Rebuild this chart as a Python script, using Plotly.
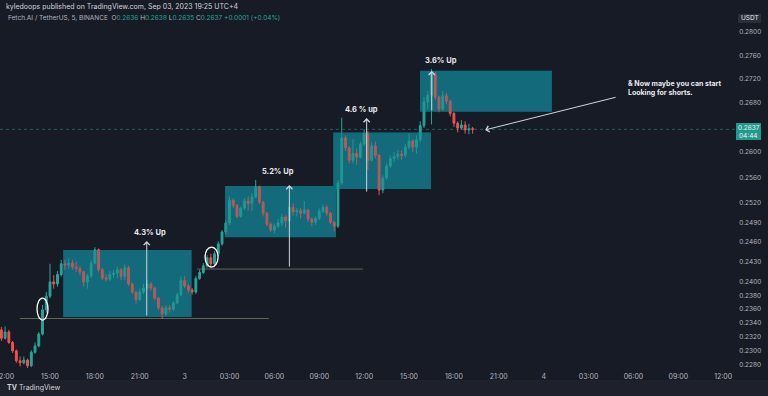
import math
import pandas as pd
import plotly.graph_objects as go

# ---------------- data (FET/USDT, 15-min candles) ----------------
opens = [0.2330, 0.2318, 0.2327, 0.2312, 0.2300, 0.2286, 0.2283, 0.2287, 0.2279, 0.2298,
         0.2307, 0.2324, 0.2359, 0.2379, 0.2400, 0.2397, 0.2411, 0.2427, 0.2425, 0.2428,
         0.2422, 0.2420, 0.2415, 0.2400, 0.2409, 0.2428, 0.2448, 0.2418, 0.2406, 0.2404,
         0.2411, 0.2413, 0.2418, 0.2408, 0.2421, 0.2397, 0.2385, 0.2374, 0.2385, 0.2391,
         0.2397, 0.2391, 0.2376, 0.2362, 0.2353, 0.2362, 0.2360, 0.2369, 0.2381, 0.2402,
         0.2394, 0.2388, 0.2385, 0.2405, 0.2414, 0.2424, 0.2436, 0.2427, 0.2442, 0.2457,
         0.2475, 0.2489, 0.2524, 0.2516, 0.2499, 0.2512, 0.2523, 0.2519, 0.2529, 0.2545,
         0.2521, 0.2504, 0.2487, 0.2478, 0.2484, 0.2489, 0.2498, 0.2492, 0.2513, 0.2506,
         0.2508, 0.2504, 0.2509, 0.2495, 0.2490, 0.2496, 0.2507, 0.2513, 0.2504, 0.2490,
         0.2484, 0.2551, 0.2623, 0.2607, 0.2587, 0.2598, 0.2592, 0.2613, 0.2630, 0.2587,
         0.2610, 0.2595, 0.2540, 0.2559, 0.2578, 0.2590, 0.2593, 0.2597, 0.2595, 0.2608,
         0.2618, 0.2608, 0.2620, 0.2643, 0.2682, 0.2693, 0.2728, 0.2690, 0.2670, 0.2692,
         0.2683, 0.2663, 0.2647, 0.2639, 0.2644, 0.2636, 0.2638]
highs = [0.2334, 0.2335, 0.2330, 0.2314, 0.2302, 0.2292, 0.2292, 0.2289, 0.2301, 0.2312,
         0.2327, 0.2366, 0.2385, 0.2427, 0.2410, 0.2416, 0.2433, 0.2433, 0.2435, 0.2433,
         0.2430, 0.2424, 0.2416, 0.2412, 0.2433, 0.2452, 0.2450, 0.2421, 0.2412, 0.2416,
         0.2418, 0.2423, 0.2421, 0.2426, 0.2424, 0.2399, 0.2387, 0.2390, 0.2397, 0.2403,
         0.2400, 0.2393, 0.2378, 0.2365, 0.2366, 0.2366, 0.2372, 0.2384, 0.2408, 0.2409,
         0.2397, 0.2391, 0.2409, 0.2418, 0.2428, 0.2440, 0.2442, 0.2446, 0.2461, 0.2478,
         0.2493, 0.2530, 0.2527, 0.2518, 0.2514, 0.2527, 0.2530, 0.2535, 0.2556, 0.2547,
         0.2523, 0.2506, 0.2490, 0.2488, 0.2495, 0.2503, 0.2501, 0.2520, 0.2519, 0.2512,
         0.2512, 0.2523, 0.2511, 0.2497, 0.2499, 0.2511, 0.2517, 0.2516, 0.2506, 0.2492,
         0.2556, 0.2656, 0.2627, 0.2609, 0.2621, 0.2606, 0.2617, 0.2637, 0.2634, 0.2616,
         0.2617, 0.2597, 0.2563, 0.2582, 0.2595, 0.2600, 0.2603, 0.2603, 0.2613, 0.2630,
         0.2621, 0.2627, 0.2650, 0.2690, 0.2700, 0.2737, 0.2732, 0.2692, 0.2700, 0.2697,
         0.2686, 0.2665, 0.2650, 0.2652, 0.2650, 0.2646, 0.2641]
lows = [0.2314, 0.2316, 0.2310, 0.2297, 0.2283, 0.2278, 0.2281, 0.2275, 0.2277, 0.2296,
        0.2305, 0.2322, 0.2355, 0.2376, 0.2390, 0.2393, 0.2408, 0.2418, 0.2420, 0.2418,
        0.2415, 0.2410, 0.2393, 0.2390, 0.2406, 0.2426, 0.2415, 0.2403, 0.2400, 0.2401,
        0.2406, 0.2406, 0.2403, 0.2403, 0.2394, 0.2382, 0.2368, 0.2372, 0.2382, 0.2388,
        0.2387, 0.2373, 0.2359, 0.2346, 0.2350, 0.2355, 0.2357, 0.2367, 0.2379, 0.2391,
        0.2384, 0.2381, 0.2382, 0.2403, 0.2412, 0.2421, 0.2421, 0.2425, 0.2439, 0.2454,
        0.2472, 0.2486, 0.2512, 0.2496, 0.2497, 0.2509, 0.2508, 0.2507, 0.2527, 0.2518,
        0.2499, 0.2484, 0.2475, 0.2473, 0.2481, 0.2484, 0.2482, 0.2489, 0.2500, 0.2499,
        0.2496, 0.2502, 0.2491, 0.2484, 0.2486, 0.2493, 0.2504, 0.2500, 0.2487, 0.2476,
        0.2481, 0.2548, 0.2602, 0.2582, 0.2582, 0.2580, 0.2590, 0.2610, 0.2572, 0.2585,
        0.2590, 0.2532, 0.2535, 0.2556, 0.2575, 0.2584, 0.2588, 0.2588, 0.2592, 0.2605,
        0.2600, 0.2598, 0.2616, 0.2639, 0.2670, 0.2645, 0.2685, 0.2665, 0.2667, 0.2678,
        0.2658, 0.2641, 0.2632, 0.2636, 0.2630, 0.2629, 0.2630]
closes = [0.2318, 0.2327, 0.2312, 0.2300, 0.2286, 0.2283, 0.2287, 0.2279, 0.2298, 0.2307,
          0.2324, 0.2359, 0.2379, 0.2400, 0.2397, 0.2411, 0.2427, 0.2425, 0.2428, 0.2422,
          0.2420, 0.2415, 0.2400, 0.2409, 0.2428, 0.2448, 0.2418, 0.2406, 0.2404, 0.2411,
          0.2413, 0.2418, 0.2408, 0.2421, 0.2397, 0.2385, 0.2374, 0.2385, 0.2391, 0.2397,
          0.2391, 0.2376, 0.2362, 0.2353, 0.2362, 0.2360, 0.2369, 0.2381, 0.2402, 0.2394,
          0.2388, 0.2385, 0.2405, 0.2414, 0.2424, 0.2436, 0.2427, 0.2442, 0.2457, 0.2475,
          0.2489, 0.2524, 0.2516, 0.2499, 0.2512, 0.2523, 0.2519, 0.2529, 0.2545, 0.2521,
          0.2504, 0.2487, 0.2478, 0.2484, 0.2489, 0.2498, 0.2492, 0.2513, 0.2506, 0.2508,
          0.2504, 0.2509, 0.2495, 0.2490, 0.2496, 0.2507, 0.2513, 0.2504, 0.2490, 0.2484,
          0.2551, 0.2623, 0.2607, 0.2587, 0.2598, 0.2592, 0.2613, 0.2630, 0.2587, 0.2610,
          0.2595, 0.2540, 0.2559, 0.2578, 0.2590, 0.2593, 0.2597, 0.2595, 0.2608, 0.2618,
          0.2608, 0.2620, 0.2643, 0.2682, 0.2693, 0.2728, 0.2690, 0.2670, 0.2692, 0.2683,
          0.2663, 0.2647, 0.2639, 0.2644, 0.2636, 0.2638, 0.2637]
first_candle = "2023-09-02 11:45"
candle_step = "15min"
times = pd.date_range(first_candle, periods=len(closes), freq=candle_step)

last_price = 0.2637
countdown = "04:44"

y_tick_values = [0.2800, 0.2760, 0.2720, 0.2680, 0.2600, 0.2560, 0.2520, 0.2490, 0.2460,
                 0.2430, 0.2400, 0.2380, 0.2360, 0.2340, 0.2320, 0.2300, 0.2280]
x_tick_times = ["2023-09-02 12:00", "2023-09-02 15:00", "2023-09-02 18:00", "2023-09-02 21:00",
                "2023-09-03 00:00", "2023-09-03 03:00", "2023-09-03 06:00", "2023-09-03 09:00",
                "2023-09-03 12:00", "2023-09-03 15:00", "2023-09-03 18:00", "2023-09-03 21:00",
                "2023-09-04 00:00", "2023-09-04 03:00", "2023-09-04 06:00", "2023-09-04 09:00",
                "2023-09-04 12:00"]
x_tick_labels = ["12:00", "15:00", "18:00", "21:00", "3", "03:00", "06:00", "09:00", "12:00",
                 "15:00", "18:00", "21:00", "4", "03:00", "06:00", "09:00", "12:00"]

# consolidation boxes drawn on the chart
box_starts = ["2023-09-02 15:53", "2023-09-03 02:42", "2023-09-03 09:56", "2023-09-03 15:44"]
box_ends = ["2023-09-03 00:28", "2023-09-03 10:07", "2023-09-03 16:28", "2023-09-04 00:33"]
box_lows = [0.23486, 0.24669, 0.25415, 0.26657]
box_highs = [0.24477, 0.25462, 0.26320, 0.27339]

# measured-move arrows and their labels
move_labels = ["4.3% Up", "5.2% Up", "4.6 % up", "3.6% Up"]
move_label_times = ["2023-09-02 21:41", "2023-09-03 06:14", "2023-09-03 11:51", "2023-09-03 17:08"]
move_label_prices = [0.24750, 0.25699, 0.26701, 0.27521]
arrow_times = ["2023-09-02 21:28", "2023-09-03 07:00", "2023-09-03 12:10", "2023-09-03 16:31"]
arrow_tops = [0.24613, 0.25478, 0.26553, 0.27339]
arrow_lengths_px = [76, 83, 75, 41]

# support lines
line_starts = ["2023-09-02 12:59", "2023-09-03 00:50"]
line_ends = ["2023-09-03 05:38", "2023-09-03 11:55"]
line_prices = [0.23464, 0.24191]

# hand drawn circles
circle_t0 = ["2023-09-02 14:08", "2023-09-03 01:22"]
circle_t1 = ["2023-09-02 14:52", "2023-09-03 02:14"]
circle_p0 = [0.23442, 0.24221]
circle_p1 = [0.23762, 0.24522]

note_text = "& Now maybe you can start<br>Looking for shorts."
note_arrow_time = "2023-09-03 20:05"
note_arrow_price = 0.2636

# ---------------- styling ----------------
BG = "#171b26"
UP = "#26a69a"
DOWN = "#ef5350"
AXIS_TXT = "#b2b5be"
FONT = "Inter"
L = math.log10  # annotations on a log axis take log10 positions

W, H = 768, 396
ML, MR, MT, MB = 0, 33, 12, 28
PW, PH = W - ML - MR, H - MT - MB


def px(xp):
    return (xp - ML) / PW


def py(yp):
    return (MT + PH - yp) / PH


fig = go.Figure()
fig.add_trace(go.Candlestick(
    x=times, open=opens, high=highs, low=lows, close=closes,
    increasing=dict(line=dict(color=UP, width=1), fillcolor=UP),
    decreasing=dict(line=dict(color=DOWN, width=1), fillcolor=DOWN),
    whiskerwidth=0, showlegend=False, hoverinfo="skip",
))

shapes = []
annotations = []


def text_at(xp, yp, text, size=6.5, color="#e8e9ed", xanchor="center", align="center"):
    annotations.append(dict(x=px(xp), y=py(yp), xref="paper", yref="paper", text=text,
                            showarrow=False, xanchor=xanchor, yanchor="middle", align=align,
                            font=dict(family=FONT, size=size, color=color)))


# current price dotted line
shapes.append(dict(type="line", xref="paper", x0=0, x1=1.0, yref="y",
                   y0=last_price, y1=last_price,
                   line=dict(color="rgba(38,166,154,0.5)", width=1, dash="dot"), layer="below"))

# boxes (below the candles so candles stay coloured), plus a light veil on top
for t0, t1, lo, hi in zip(box_starts, box_ends, box_lows, box_highs):
    shapes.append(dict(type="rect", xref="x", yref="y", x0=t0, x1=t1, y0=lo, y1=hi,
                       fillcolor="#136a7b", line=dict(width=0), layer="below"))
    shapes.append(dict(type="rect", xref="x", yref="y", x0=t0, x1=t1, y0=lo, y1=hi,
                       fillcolor="rgba(19,106,123,0.25)", line=dict(width=0), layer="above"))

# support lines
for t0, t1, p in zip(line_starts, line_ends, line_prices):
    shapes.append(dict(type="line", xref="x", yref="y", x0=t0, x1=t1, y0=p, y1=p,
                       line=dict(color="rgba(150,150,125,0.6)", width=1)))

# circles
for t0, t1, p0, p1 in zip(circle_t0, circle_t1, circle_p0, circle_p1):
    shapes.append(dict(type="circle", xref="x", yref="y", x0=t0, x1=t1, y0=p0, y1=p1,
                       line=dict(color="white", width=1.3)))

# move arrows + labels
for t, top, ln in zip(arrow_times, arrow_tops, arrow_lengths_px):
    annotations.append(dict(x=t, y=L(top), xref="x", yref="y", text="", showarrow=True,
                            ax=0, ay=ln, arrowhead=4, arrowsize=1.2, arrowwidth=1,
                            arrowcolor="#d1d4dc", standoff=0, startstandoff=0))
for lab, t, p in zip(move_labels, move_label_times, move_label_prices):
    annotations.append(dict(x=t, y=L(p), xref="x", yref="y", text="<b>%s</b>" % lab,
                            showarrow=False, xanchor="center", yanchor="middle",
                            font=dict(family=FONT, size=7.5, color="#e8e9ed")))

# note + diagonal arrow
annotations.append(dict(x=note_arrow_time, y=L(note_arrow_price), xref="x", yref="y", text="",
                        showarrow=True, ax=132, ay=-33, arrowhead=4, arrowsize=1.2, arrowwidth=1,
                        arrowcolor="#d1d4dc", standoff=0))
text_at(626, 88, "<b>%s</b>" % note_text, size=7, xanchor="left", align="left")

# header texts
text_at(4, 6, "kyledoops published on TradingView.com, Sep 03, 2023 19:25 UTC+4",
        size=7, color="#d1d4dc", xanchor="left")
G = "#26a69a"
hdr = ("Fetch.AI / TetherUS, 5, BINANCE&nbsp;&nbsp;O<span style='color:%s'>0.2636</span>&nbsp;"
       "H<span style='color:%s'>0.2638</span>&nbsp;L<span style='color:%s'>0.2635</span>&nbsp;"
       "C<span style='color:%s'>0.2637</span>&nbsp;<span style='color:%s'>+0.0001 (+0.04%%)</span>") % (G, G, G, G, G)
text_at(6, 18, hdr, size=6.5, color="#b2b5be", xanchor="left")

# USDT box on price scale
shapes.append(dict(type="rect", xref="paper", yref="paper", x0=px(738), x1=px(761), y0=py(23), y1=py(14),
                   fillcolor="#2a2e39", line=dict(width=0)))
text_at(749.5, 18.5, "USDT", size=6.5)

# last price label
shapes.append(dict(type="rect", xref="paper", yref="paper", x0=px(736), x1=px(761), y0=py(140), y1=py(123),
                   fillcolor="#22998c", line=dict(width=0)))
text_at(748.5, 127.5, "%.4f" % last_price, size=6.5, color="#e8f5f3")
text_at(748.5, 135.5, countdown, size=6.5, color="#e8f5f3")

# bottom strip with logo
shapes.append(dict(type="rect", xref="paper", yref="paper", x0=px(0), x1=px(768), y0=py(396), y1=py(380),
                   fillcolor="#1e212b", line=dict(width=0)))
text_at(5, 388, "<b>TV</b> TradingView", size=7, color="#d1d4dc", xanchor="left")

fig.update_layout(
    width=W, height=H,
    margin=dict(l=ML, r=MR, t=MT, b=MB, autoexpand=False),
    paper_bgcolor=BG, plot_bgcolor=BG,
    showlegend=False,
    shapes=shapes, annotations=annotations,
    font=dict(family=FONT, size=7, color=AXIS_TXT),
    xaxis=dict(
        type="date", range=["2023-09-02 11:39:28", "2023-09-04 12:47:20"], automargin=False,
        rangeslider=dict(visible=False), showgrid=False, zeroline=False, showline=False,
        tickmode="array", tickvals=x_tick_times, ticktext=x_tick_labels, ticklabeloverflow="allow",
        tickfont=dict(family=FONT, size=7, color=AXIS_TXT), ticks="outside", ticklen=2, tickcolor=BG,
    ),
    yaxis=dict(
        type="log", side="right", range=[-0.642862, -0.547449], automargin=False,
        showgrid=False, zeroline=False, showline=False,
        tickmode="array", tickvals=y_tick_values, ticktext=["%.4f" % v for v in y_tick_values],
        tickfont=dict(family=FONT, size=6.5, color=AXIS_TXT), ticks="outside", ticklen=2, tickcolor=BG,
    ),
)

fig.write_html("out.html", config={"displayModeBar": False},
               post_script="document.body.style.margin='0px';document.body.style.overflow='hidden';")
